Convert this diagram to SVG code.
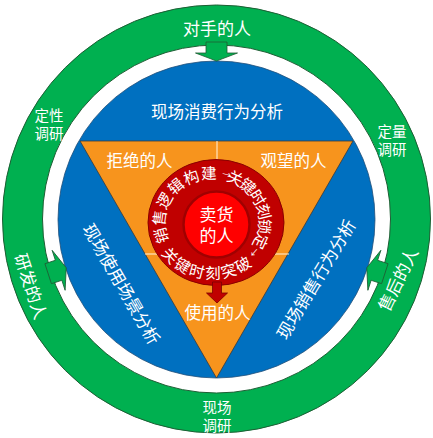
<svg xmlns="http://www.w3.org/2000/svg" width="433" height="438" viewBox="0 0 433 438">
<defs>
<style>
text { font-family: "Noto Sans CJK SC", "Microsoft YaHei", sans-serif; fill: #ffffff; text-anchor: middle; dominant-baseline: central; }
.ring { fill: #00B050; stroke: #1E5E34; stroke-width: 1; fill-rule: evenodd; }
.garrow { fill: #00B050; stroke: #1E5E34; stroke-width: 0.8; }
.blue { fill: #0070C0; stroke: #1F4E79; stroke-width: 0.8; }
.tri { fill: #F7941D; stroke: #3A3A3A; stroke-width: 0.8; }
.div { stroke: #FFF3E0; stroke-width: 1; fill: none; }
.redring { fill: #C00000; stroke: #8A0000; stroke-width: 1; }
.core { fill: #FF0000; stroke: #A00000; stroke-width: 2.5; }
.rarrow { fill: #C00000; stroke: #7A0000; stroke-width: 0.8; }
.lbl { font-size: 17px; }
.sm { font-size: 14.5px; }
.rt { font-size: 15.5px; }
</style>
<path id="cw" d="M165.23,247 A54,50 0 1,1 258.77,197 A54,50 0 1,1 165.23,247"/>
<path id="ccw" d="M165.23,197 A54,50 0 1,0 258.77,247 A54,50 0 1,0 165.23,197"/>
<path id="arr" d="M206,42 H227 V53 H237.5 L216.5,61 L195.5,53 H206 Z"/>
</defs>
<rect width="433" height="438" fill="#ffffff"/>

<g id="outer-ring">
<path class="ring" d="M2.5,219 A214,214 0 1,0 430.5,219 A214,214 0 1,0 2.5,219 Z M42.5,219 A174,174 0 1,1 390.5,219 A174,174 0 1,1 42.5,219 Z"/>
<text class="lbl" x="217" y="27">对手的人</text>
<text class="sm" x="49" y="114">定性<tspan x="49" dy="17.5">调研</tspan></text>
<text class="sm" x="392" y="130">定量<tspan x="392" dy="17.5">调研</tspan></text>
<text class="sm" x="217" y="406">现场<tspan x="217" dy="18">调研</tspan></text>
<text class="lbl" transform="translate(32,286) rotate(72)">研发的人</text>
<text class="lbl" transform="translate(397,279) rotate(-64)">售后的人</text>
</g>

<g id="blue-circle">
<circle class="blue" cx="216.5" cy="219.5" r="158.5"/>
<text class="lbl" x="217" y="111" style="font-size:16.5px">现场消费行为分析</text>
<text class="lbl" transform="translate(122.5,283.5) rotate(60)">现场使用场景分析</text>
<text class="lbl" transform="translate(315,278.5) rotate(-59)">现场销售行为分析</text>
</g>

<g id="triangle">
<polygon class="tri" points="80,141 353,141 216.5,378"/>
<line class="div" x1="217" y1="141" x2="217" y2="200"/>
<line class="div" x1="145" y1="254" x2="289" y2="254"/>
<text class="lbl" x="139.5" y="160" style="font-size:16.5px">拒绝的人</text>
<text class="lbl" x="293.5" y="160" style="font-size:16.5px">观望的人</text>
<text class="lbl" x="217.5" y="312" style="font-size:16.5px">使用的人</text>
</g>

<g id="red-ring">
<ellipse class="redring" cx="216" cy="222.5" rx="68" ry="63"/>
<text class="rt" style="letter-spacing:3px"><textPath href="#cw" startOffset="60">销售逻辑构建</textPath></text>
<text style="font-size:9px"><textPath href="#cw" startOffset="123">→</textPath></text>
<text class="rt"><textPath href="#cw" startOffset="171">关键时刻锁定</textPath></text>
<text style="font-size:9px"><textPath href="#cw" startOffset="223">→</textPath></text>
<text class="rt"><textPath href="#ccw" startOffset="101">关键时刻突破</textPath></text>
</g>

<g id="core">
<circle class="core" cx="216.5" cy="224.5" r="33"/>
<text class="lbl" x="216.5" y="213">卖货</text>
<text class="lbl" x="216.5" y="234">的人</text>
</g>

<g id="connectors">
<use href="#arr" class="garrow"/>
<use href="#arr" class="garrow" transform="rotate(-108 216.5 219)"/>
<use href="#arr" class="garrow" transform="rotate(108 216.5 219)"/>
<path class="rarrow" d="M212.5,282 H221.5 V293 H227.5 L217,303 L206.5,293 H212.5 Z"/>
</g>
</svg>
